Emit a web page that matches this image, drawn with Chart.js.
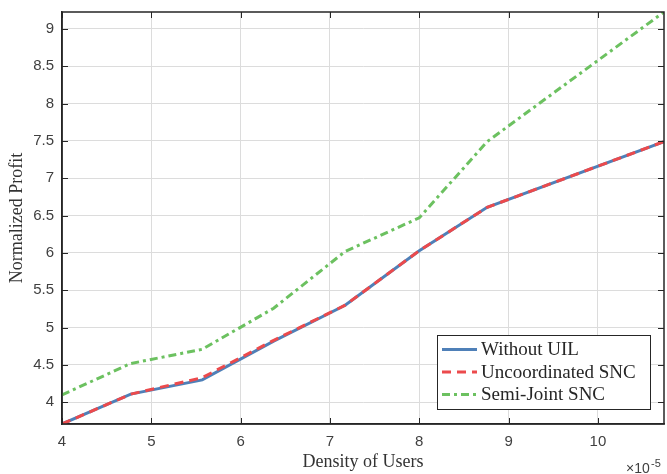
<!DOCTYPE html>
<html>
<head>
<meta charset="utf-8">
<script src="https://cdn.jsdelivr.net/npm/chart.js@4.4.0/dist/chart.umd.min.js"></script>
<style>
  html, body { margin: 0; padding: 0; background: #fff; }
  #profit_line { display: block; }
</style>
</head>
<body>
<canvas id="profit_line" width="667" height="474"></canvas>
<script>
// density of users (x 1e-5) and normalized profit for each scheme
const density = [4, 4.77, 5.57, 6.37, 7.17, 8.0, 8.76, 10.74];
const withoutUIL = [3.71, 4.11, 4.30, 4.82, 5.30, 6.03, 6.61, 7.49];
const uncoordinatedSNC = [3.71, 4.11, 4.33, 4.83, 5.30, 6.03, 6.61, 7.49];
const semiJointSNC = [4.10, 4.52, 4.71, 5.26, 6.02, 6.47, 7.49, 9.225];
const seriesNames = ['Without UIL', 'Uncoordinated SNC', 'Semi-Joint SNC'];
const xTicks = [4, 5, 6, 7, 8, 9, 10];
const yTicks = [4, 4.5, 5, 5.5, 6, 6.5, 7, 7.5, 8, 8.5, 9];

const BLUE = '#4f80b8';
const RED = '#ec4a4c';
const GREEN = '#6cc160';
const AXIS = '#262626';
const SERIF = '"Liberation Serif", "Times New Roman", serif';
const SANS = '"Liberation Sans", Arial, sans-serif';

const styles = [
  { color: BLUE, dash: [] },
  { color: RED, dash: [9, 6] },
  { color: GREEN, dash: [8, 4, 3, 4] }
];

function toPoints(ys){
  return density.map((x, i) => ({ x: x, y: ys[i] }));
}

// box around the axes, inward ticks, legend and the exponent label
const framePlugin = {
  id: 'frame',
  afterDraw(chart){
    const ctx = chart.ctx;
    const a = chart.chartArea;
    const sx = chart.scales.x, sy = chart.scales.y;
    ctx.save();

    ctx.strokeStyle = AXIS;
    ctx.lineWidth = 1;
    ctx.beginPath();
    xTicks.forEach(v => {
      const px = Math.round(sx.getPixelForValue(v)) + 0.5;
      ctx.moveTo(px, a.bottom); ctx.lineTo(px, a.bottom - 6);
      ctx.moveTo(px, a.top); ctx.lineTo(px, a.top + 6);
    });
    yTicks.forEach(v => {
      const py = Math.round(sy.getPixelForValue(v)) + 0.5;
      ctx.moveTo(a.left, py); ctx.lineTo(a.left + 6, py);
      ctx.moveTo(a.right, py); ctx.lineTo(a.right - 6, py);
    });
    ctx.stroke();

    ctx.lineWidth = 1.5;
    ctx.strokeRect(a.left, a.top, a.right - a.left, a.bottom - a.top);

    // legend
    const lx = 437, ly = 335, lw = 213, lh = 74;
    ctx.fillStyle = '#fff';
    ctx.fillRect(lx, ly, lw, lh);
    ctx.lineWidth = 1;
    ctx.strokeStyle = AXIS;
    ctx.strokeRect(lx + 0.5, ly + 0.5, lw, lh);
    ctx.font = '19px ' + SERIF;
    ctx.textBaseline = 'middle';
    ctx.textAlign = 'left';
    seriesNames.forEach((name, i) => {
      const y = ly + 14.5 + i * 22.5;
      ctx.beginPath();
      ctx.strokeStyle = styles[i].color;
      ctx.lineWidth = 3;
      ctx.setLineDash(styles[i].dash);
      ctx.moveTo(442, y); ctx.lineTo(477, y);
      ctx.stroke();
      ctx.setLineDash([]);
      ctx.fillStyle = '#262626';
      ctx.fillText(name, 481, y + 1);
    });

    // x10^-5
    ctx.fillStyle = '#404040';
    ctx.font = '14px ' + SANS;
    ctx.textBaseline = 'alphabetic';
    ctx.fillText('\u00d710', 626, 473);
    ctx.font = '11px ' + SANS;
    ctx.fillText('-5', 651, 467);
    ctx.restore();
  }
};

const config = {
  type: 'line',
  data: {
    datasets: [
      {
        label: seriesNames[0],
        data: toPoints(withoutUIL),
        borderColor: BLUE,
        borderWidth: 3,
        order: 2
      },
      {
        label: seriesNames[1],
        data: toPoints(uncoordinatedSNC),
        borderColor: RED,
        borderWidth: 3,
        borderDash: [9, 6],
        order: 1
      },
      {
        label: seriesNames[2],
        data: toPoints(semiJointSNC),
        borderColor: GREEN,
        borderWidth: 3,
        borderDash: [8, 4, 3, 4],
        order: 0
      }
    ]
  },
  options: {
    responsive: false,
    devicePixelRatio: 1,
    animation: false,
    layout: { padding: { top: 12, right: 3, left: 0, bottom: 0 } },
    elements: {
      point: { radius: 0, hoverRadius: 0 },
      line: { tension: 0, fill: false, borderCapStyle: 'butt' }
    },
    scales: {
      x: {
        type: 'linear',
        min: 4,
        max: 10.74,
        afterBuildTicks: scale => { scale.ticks = xTicks.map(v => ({ value: v })); },
        afterFit: scale => {
          scale.height = 50;
          scale.paddingLeft = 0;
          scale.paddingRight = 0;
        },
        grid: { color: '#dcdcdc', lineWidth: 1, drawTicks: false },
        border: { display: true, color: AXIS, width: 1.5 },
        ticks: {
          padding: 9,
          color: '#404040',
          font: { family: SANS, size: 15 },
          callback: v => String(v)
        },
        title: {
          display: true,
          text: 'Density of Users',
          color: '#333',
          font: { family: SERIF, size: 18 },
          padding: { top: 0, bottom: 1 }
        }
      },
      y: {
        type: 'linear',
        min: 3.71,
        max: 9.225,
        afterBuildTicks: scale => { scale.ticks = yTicks.map(v => ({ value: v })); },
        afterFit: scale => {
          scale.width = 62;
          scale.paddingTop = 0;
          scale.paddingBottom = 0;
        },
        grid: { color: '#dcdcdc', lineWidth: 1, drawTicks: false },
        border: { display: true, color: AXIS, width: 1.5 },
        ticks: {
          padding: 8,
          color: '#404040',
          font: { family: SANS, size: 15 },
          callback: v => String(v)
        },
        title: {
          display: true,
          text: 'Normalized Profit',
          color: '#333',
          font: { family: SERIF, size: 18 },
          padding: { top: 6, bottom: 0 }
        }
      }
    },
    plugins: {
      legend: { display: false },
      tooltip: { enabled: false }
    }
  },
  plugins: [framePlugin]
};

new Chart(document.getElementById('profit_line'), config);
</script>
</body>
</html>
